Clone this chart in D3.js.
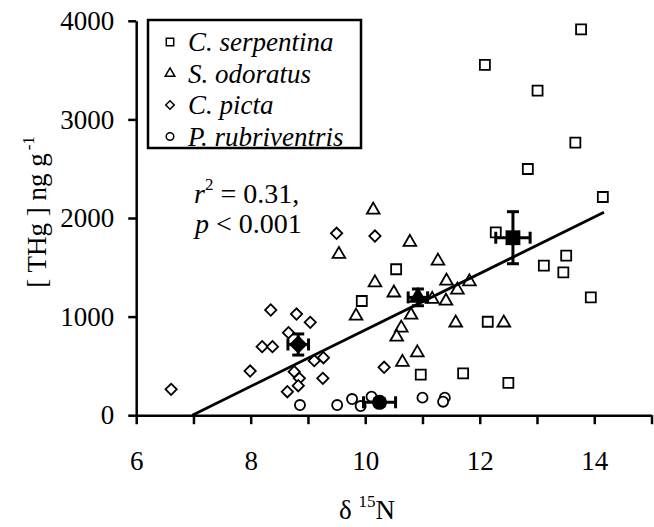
<!DOCTYPE html>
<html><head><meta charset="utf-8">
<script src="https://cdn.jsdelivr.net/npm/d3@7/dist/d3.min.js"></script>
<style>body{margin:0;background:#fff}svg{display:block}text{font-family:"Liberation Serif","Times New Roman",serif;fill:#000}</style>
</head><body><svg id="c" width="654" height="527"></svg>
<script>
// ---- data ----
const speciesNames = ["C. serpentina", "S. odoratus", "C. picta", "P. rubriventris"];
const serpentinaX = [13.77,12.09,13.01,13.67,12.84,14.15,12.28,13.51,13.12,13.46,13.94,10.54,9.94,12.14,10.97,11.71,12.50];
const serpentinaY = [3914,3552,3291,2764,2497,2213,1855,1618,1516,1449,1194,1480,1158,948,411,425,327];
const odoratusX = [10.14,10.78,9.54,11.27,10.17,10.50,11.42,11.82,11.61,11.17,11.41,10.80,9.84,10.63,11.58,12.42,10.55,10.91,10.65];
const odoratusY = [2081,1754,1632,1564,1344,1241,1361,1354,1270,1176,1158,1016,1006,885,937,937,793,634,537];
const pictaX = [8.35,8.80,9.04,8.66,8.20,8.38,7.99,8.76,9.11,9.27,8.85,8.83,9.26,8.64,10.17,9.50,10.33,6.61];
const pictaY = [1067,1026,942,837,695,695,448,441,553,583,374,299,374,238,1817,1845,486,262];
const rubriX = [8.86,9.51,9.77,9.92,10.11,11.00,11.39,11.36];
const rubriY = [103,103,164,93,188,178,178,137];
const meanX = [12.58, 10.92, 8.83, 10.25];
const meanY = [1800, 1195, 717, 131];
const meanXErr = [0.30, 0.17, 0.18, 0.28];
const meanYErr = [264, 85, 107, 35];
const fitSlope = 286.2, fitIntercept = -286.2*6.98, fitXStart = 6.98, fitXEnd = 14.17;
const xTicks = [6,7,8,9,10,11,12,13,14,15];
const xTickLabels = [6,8,10,12,14];
const yTicks = [0,1000,2000,3000,4000];
const statLines = ["0.31,", "0.001"];

// ---- chart ----
const svg = d3.select("#c");
const x = d3.scaleLinear().domain([6,15]).range([136.2,651.5]);
const y = d3.scaleLinear().domain([0,4000]).range([415.2,20.8]);

const shapes = [
  {type: d3.symbolSquare, size: 100, rot: 0},
  {type: d3.symbolTriangle, size: 70, rot: 0},
  {type: d3.symbolSquare, size: 64, rot: 45},
  {type: d3.symbolCircle, size: 80, rot: 0}
];
const series = [
  {xs: serpentinaX, ys: serpentinaY},
  {xs: odoratusX, ys: odoratusY},
  {xs: pictaX, ys: pictaY},
  {xs: rubriX, ys: rubriY}
];

// axes
const xAxis = d3.axisBottom(x).tickValues(xTicks).tickSize(9).tickSizeOuter(0).tickPadding(27)
  .tickFormat(d => xTickLabels.includes(d) ? d : "");
const gx = svg.append("g").attr("transform", `translate(0,${y(0)})`).call(xAxis);
const yAxis = d3.axisLeft(y).tickValues(yTicks).tickSize(8).tickSizeOuter(0).tickPadding(14).tickFormat(d => d);
const gy = svg.append("g").attr("transform", `translate(${x(6)},0)`).call(yAxis);
[gx, gy].forEach(g => {
  g.selectAll("path.domain").attr("stroke","#000").attr("stroke-width",2.5);
  g.selectAll(".tick line").attr("stroke","#000").attr("stroke-width",2.5);
  g.selectAll(".tick text").style("font-family","Liberation Serif").style("font-size","27px").attr("fill","#000");
});

// points
series.forEach((s, i) => {
  const sh = shapes[i];
  svg.append("g").selectAll("path").data(s.xs.map((v, j) => [v, s.ys[j]])).join("path")
    .attr("d", d3.symbol().type(sh.type).size(sh.size))
    .attr("transform", d => `translate(${x(d[0])},${y(d[1])}) rotate(${sh.rot})`)
    .attr("fill","#fff").attr("stroke","#000").attr("stroke-width",1.8);
});

// regression line
svg.append("line")
  .attr("x1", x(fitXStart)).attr("y1", y(fitSlope*fitXStart + fitIntercept))
  .attr("x2", x(fitXEnd)).attr("y2", y(fitSlope*fitXEnd + fitIntercept))
  .attr("stroke","#000").attr("stroke-width",2.8);

// means with error bars
const meanSizes = [220, 150, 170, 180];
meanX.forEach((mx, i) => {
  const g = svg.append("g");
  const cx = x(mx), cy = y(meanY[i]);
  const xl = x(mx - meanXErr[i]), xr = x(mx + meanXErr[i]);
  const yt = y(meanY[i] + meanYErr[i]), yb = y(meanY[i] - meanYErr[i]);
  const cap = 6;
  const lines = [
    [xl, cy, xr, cy], [cx, yt, cx, yb],
    [xl, cy-cap, xl, cy+cap], [xr, cy-cap, xr, cy+cap],
    [cx-cap, yt, cx+cap, yt], [cx-cap, yb, cx+cap, yb]
  ];
  g.selectAll("line").data(lines).join("line")
    .attr("x1", d=>d[0]).attr("y1", d=>d[1]).attr("x2", d=>d[2]).attr("y2", d=>d[3])
    .attr("stroke","#000").attr("stroke-width",3);
  g.append("path").attr("d", d3.symbol().type(shapes[i].type).size(meanSizes[i]))
    .attr("transform", `translate(${cx},${cy}) rotate(${shapes[i].rot})`).attr("fill","#000");
});

// legend
const lg = svg.append("g");
lg.append("rect").attr("x",148).attr("y",20).attr("width",213).attr("height",128)
  .attr("fill","#fff").attr("stroke","#000").attr("stroke-width",2.5);
const legendSizes = [55, 40, 36, 45];
speciesNames.forEach((nm, i) => {
  const cy = 42 + i*31.5;
  lg.append("path").attr("d", d3.symbol().type(shapes[i].type).size(legendSizes[i]))
    .attr("transform", `translate(170,${cy}) rotate(${shapes[i].rot})`)
    .attr("fill","#fff").attr("stroke","#000").attr("stroke-width",1.5);
  lg.append("text").attr("x",188).attr("y",cy+9).style("font-size","27px").style("font-style","italic").text(nm);
});

// stats text
const t1 = svg.append("text").attr("x",194).attr("y",203).style("font-size","28px");
t1.append("tspan").style("font-style","italic").text("r");
t1.append("tspan").attr("dy",-13).style("font-size","17px").text("2");
t1.append("tspan").attr("dy",13).text(" = " + statLines[0]);
const t2 = svg.append("text").attr("x",195).attr("y",233).style("font-size","28px");
t2.append("tspan").style("font-style","italic").text("p");
t2.append("tspan").text(" < " + statLines[1]);

// axis titles
const xt = svg.append("text").attr("x",367).attr("y",519).attr("text-anchor","middle").style("font-size","27px");
xt.append("tspan").text("δ ");
xt.append("tspan").attr("dy",-12).style("font-size","17px").text("15");
xt.append("tspan").attr("dy",12).text("N");
const yt = svg.append("text").attr("transform","translate(46,212) rotate(-90)").attr("text-anchor","middle").style("font-size","27px");
yt.append("tspan").text("[ THg ] ng g");
yt.append("tspan").attr("dy",-12).attr("dx",3).style("font-size","17px").text("-1");
</script></body></html>
